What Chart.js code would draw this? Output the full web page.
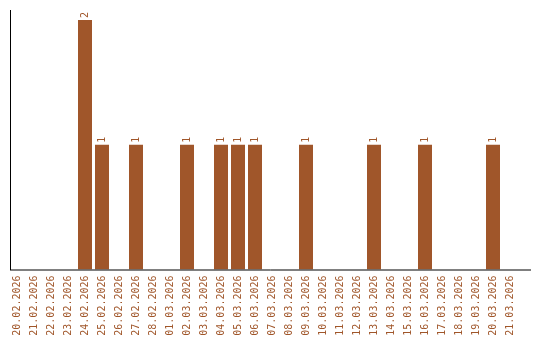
<!DOCTYPE html>
<html>
<head>
<meta charset="utf-8">
<script src="https://cdn.jsdelivr.net/npm/chart.js@4"></script>
<style>
html,body{margin:0;padding:0;background:#fff;}
#wrap{width:540px;height:340px;}
</style>
</head>
<body>
<div id="wrap"><canvas id="c" width="540" height="340"></canvas></div>
<script>
const categories = ["20.02.2026","21.02.2026","22.02.2026","23.02.2026","24.02.2026","25.02.2026","26.02.2026","27.02.2026","28.02.2026","01.03.2026","02.03.2026","03.03.2026","04.03.2026","05.03.2026","06.03.2026","07.03.2026","08.03.2026","09.03.2026","10.03.2026","11.03.2026","12.03.2026","13.03.2026","14.03.2026","15.03.2026","16.03.2026","17.03.2026","18.03.2026","19.03.2026","20.03.2026","21.03.2026"];
const values = [0,0,0,0,2,1,0,1,0,0,1,0,1,1,1,0,0,1,0,0,0,1,0,0,1,0,0,0,1,0];

const COLOR = '#A0562A';
const FONT = '10px "DejaVu Sans Mono", monospace';

const axisLines = {
  id: 'axisLines',
  afterDraw(chart) {
    const ctx = chart.ctx;
    const a = chart.chartArea;
    ctx.save();
    ctx.strokeStyle = '#000';
    ctx.lineWidth = 1;
    ctx.beginPath();
    ctx.moveTo(10.5, 10);
    ctx.lineTo(10.5, a.bottom + 0.5);
    ctx.moveTo(10, a.bottom + 0.5);
    ctx.lineTo(531, a.bottom + 0.5);
    ctx.stroke();
    ctx.restore();
  }
};

const barLabels = {
  id: 'barLabels',
  afterDatasetsDraw(chart) {
    const ctx = chart.ctx;
    const meta = chart.getDatasetMeta(0);
    ctx.save();
    ctx.fillStyle = COLOR;
    ctx.font = FONT;
    ctx.textAlign = 'left';
    ctx.textBaseline = 'middle';
    meta.data.forEach((bar, i) => {
      const v = chart.data.datasets[0].data[i];
      if (!v) return;
      ctx.save();
      ctx.translate(bar.x, bar.y - 2);
      ctx.rotate(-Math.PI / 2);
      ctx.fillText(String(v), 0, 0);
      ctx.restore();
    });
    ctx.restore();
  }
};

new Chart(document.getElementById('c'), {
  type: 'bar',
  data: {
    labels: categories,
    datasets: [{
      data: values,
      backgroundColor: COLOR,
      borderWidth: 0,
      categoryPercentage: 1,
      barPercentage: 14/17
    }]
  },
  options: {
    responsive: false,
    animation: false,
    devicePixelRatio: 1,
    layout: { padding: { left: 8.5, right: 21.5, top: 20, bottom: 0 } },
    plugins: { legend: { display: false }, tooltip: { enabled: false } },
    scales: {
      x: {
        offset: true,
        grid: { display: false, drawTicks: false },
        border: { display: false },
        ticks: {
          color: COLOR,
          font: { family: '"DejaVu Sans Mono", monospace', size: 10 },
          minRotation: 90,
          maxRotation: 90,
          autoSkip: false,
          padding: 6
        },
        afterFit(scale) { scale.height = 70.5; }
      },
      y: {
        display: false,
        min: 0,
        max: 2
      }
    }
  },
  plugins: [axisLines, barLabels]
});
</script>
</body>
</html>
